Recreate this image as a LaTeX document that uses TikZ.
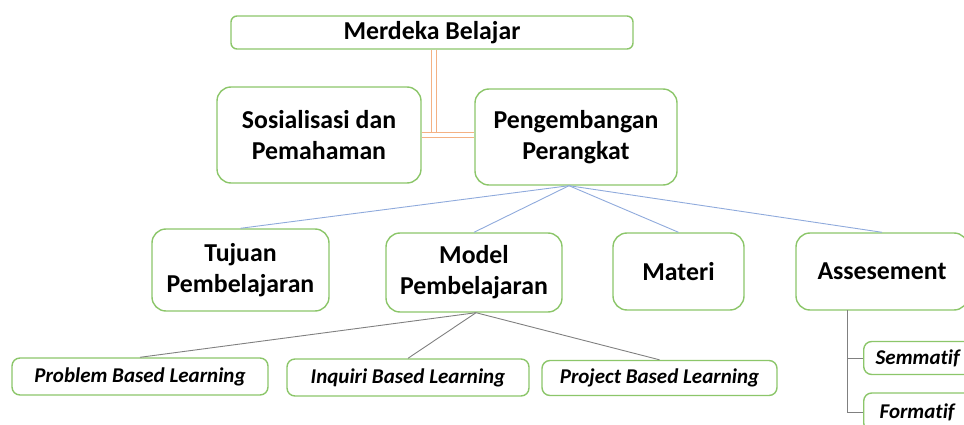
\documentclass[tikz,border=0pt]{standalone}
\usepackage{fontspec}
\setmainfont{Carlito}[Ligatures=NoCommon]
\usetikzlibrary{calc}
\definecolor{boxgreen}{HTML}{8CC66A}
\definecolor{linkblue}{HTML}{8FAADC}
\definecolor{linkgray}{HTML}{808080}
\definecolor{linkorange}{HTML}{F4B183}
\begin{document}
\begin{tikzpicture}[x=1pt,y=-1pt,
  box/.style={draw=boxgreen, line width=1.4pt, fill=white, rounded corners=14pt,
    align=center, inner sep=0pt, font=\fontsize{25.8}{31}\selectfont\bfseries},
  smallbox/.style={box, rounded corners=8pt, font=\fontsize{21}{25}\selectfont\bfseries\itshape},
  bluelink/.style={draw=linkblue, line width=0.9pt},
  graylink/.style={draw=linkgray, line width=0.9pt},
  orangelink/.style={draw=linkorange, line width=0.9pt, double=white, double distance=4.5pt}]
\useasboundingbox (0,0) rectangle (964,425);

\node[box, rounded corners=6pt, minimum width=402, minimum height=33] (merdeka) at (432,32.5) {Merdeka Belajar};
\node[box, minimum width=204, minimum height=96] (sosial) at (319,135) {Sosialisasi dan\\Pemahaman};
\node[box, minimum width=202, minimum height=96] (pengem) at (576,137) {Pengembangan\\Perangkat};

\node[box, minimum width=177, minimum height=82] (tujuan) at (240.5,270) {Tujuan\\Pembelajaran};
\node[box, minimum width=176, minimum height=79] (model) at (474,272.5) {Model\\Pembelajaran};
\node[box, minimum width=131, minimum height=77] (materi) at (678.5,271.5) {Materi};
\node[box, minimum width=172, minimum height=77] (assess) at (882,271.5) {Assesement};

\node[smallbox, minimum width=256, minimum height=37] (pbl) at (140,376.5) {Problem Based Learning};
\node[smallbox, minimum width=242, minimum height=37] (ibl) at (408,377.5) {Inquiri Based Learning};
\node[smallbox, minimum width=235, minimum height=35] (pjbl) at (659.5,378) {Project Based Learning};

\node[smallbox, anchor=west, inner xsep=12pt, text width=100pt, align=left, minimum height=33] (semm) at (863,358) {Semmatif};
\node[smallbox, anchor=west, inner xsep=16pt, text width=100pt, align=left, minimum height=38] (form) at (863,412) {Formatif};

% orange double connector
\coordinate (joint) at (434,135);
\draw[orangelink] ($(merdeka.south)+(2,0)$) -- (joint);
\draw[orangelink] (sosial.east |- joint) -- (pengem.west |- joint);

% blue connectors
\coordinate (psrc) at ($(pengem.south)+(-7,0)$);
\draw[bluelink] (psrc) -- (tujuan.north);
\draw[bluelink] (psrc) -- (model.north);
\draw[bluelink] (psrc) -- (materi.north);
\draw[bluelink] (psrc) -- (assess.north);

% gray connectors
\coordinate (msrc) at ($(model.south)+(2,0)$);
\draw[graylink] (msrc) -- (pbl.north);
\draw[graylink] (msrc) -- (ibl.north);
\draw[graylink] (msrc) -- (pjbl.north);

\coordinate (vtop) at (847,310);
\draw[graylink] (vtop) |- (form.west);
\draw[graylink] (vtop |- semm.west) -- (semm.west);
\end{tikzpicture}
\end{document}
